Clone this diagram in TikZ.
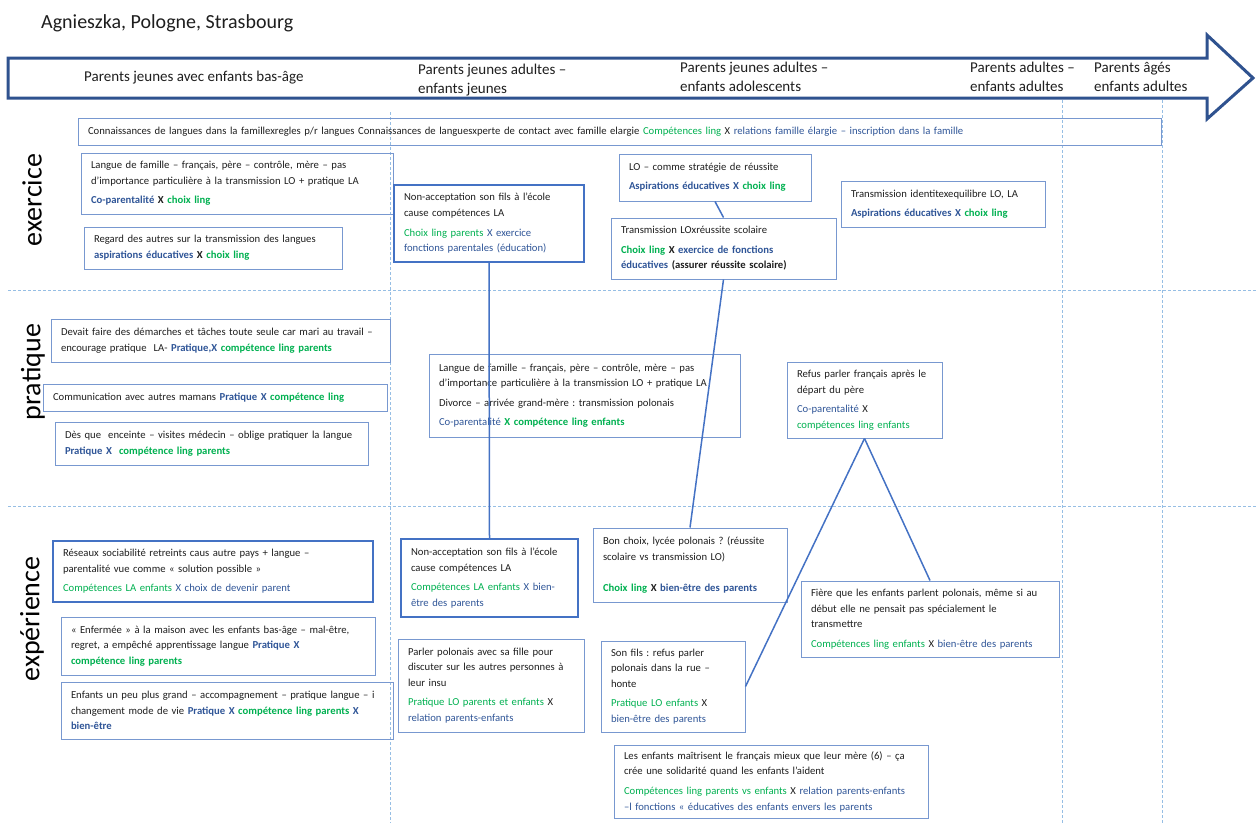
\documentclass[tikz,border=0pt]{standalone}
\usepackage{fontspec}
\setmainfont{Carlito}
\usepackage{tikz}
\frenchspacing

\definecolor{arrowblue}{RGB}{47,82,143}
\definecolor{boxblue}{RGB}{120,152,208}
\definecolor{linkblue}{RGB}{68,114,196}
\definecolor{gridblue}{RGB}{150,190,228}
\definecolor{lingreen}{RGB}{0,176,80}
\definecolor{famblue}{RGB}{47,85,151}
\definecolor{txtgray}{RGB}{30,30,30}
\newcommand{\cling}[1]{\textcolor{lingreen}{#1}}
\newcommand{\cfam}[1]{\textcolor{famblue}{#1}}

\begin{document}
\begin{tikzpicture}[x=1pt,y=-1pt,
  box/.style={draw=boxblue,line width=1pt,inner xsep=10pt,inner ysep=0pt,align=left,text=txtgray,font=\fontsize{10.67}{15.8}\selectfont},
  thickbox/.style={box,draw=linkblue,line width=1.6pt},
  sepline/.style={gridblue,line width=1pt,dash pattern=on 3pt off 2pt},
  conn/.style={linkblue,line width=1.5pt},
  stage/.style={anchor=west,inner sep=0pt,align=left,text=txtgray,font=\fontsize{15}{19}\selectfont},
  rowlabel/.style={rotate=90,inner sep=0pt,font=\fontsize{28}{30}\selectfont}]
  \useasboundingbox (0,0) rectangle (1256,823);
  \foreach \x/\y in {390/112,1062/100,1162/100} \draw[sepline] (\x,\y) -- (\x,823);
  \foreach \y in {290,506} \draw[sepline] (8,\y) -- (1256,\y);
  \node[anchor=west,inner sep=0pt,text=txtgray,font=\fontsize{20}{24}\selectfont] at (41,23) (titre) {Agnieszka, Pologne, Strasbourg};
  \draw[arrowblue,line width=3pt] (8,58) -- (1207,58) -- (1207,35) -- (1253,78) -- (1207,119) -- (1207,98) -- (8,98) -- cycle;
  \node[stage] at (84,78) (p1) {Parents jeunes avec enfants bas-âge};
  \node[stage] at (418,80) (p2) {Parents jeunes adultes –\\enfants jeunes};
  \node[stage] at (680,77) (p3) {Parents jeunes adultes –\\enfants adolescents};
  \node[stage] at (970,77) (p4) {Parents adultes –\\enfants adultes};
  \node[stage] at (1094,77) (p5) {Parents âgés\\enfants adultes};
  \node[rowlabel] at (32,200) (exercice) {exercice};
  \node[rowlabel] at (33,372) (pratique) {pratique};
  \node[rowlabel] at (32,619) (experience) {expérience};
  \node[box,text width=1063pt,minimum height=27pt] at (619.5,131.5) (famille) {Connaissances de langues dans la famillexregles p/r langues Connaissances de languesxperte de contact avec famille elargie \cling{Compétences ling} X \cfam{relations famille élargie – inscription dans la famille}};
  \node[box,text width=292pt,minimum height=61pt] at (237,183.5) (langfam) {Langue de famille – français, père – contrôle, mère – pas\\d’importance particulière à la transmission LO + pratique LA\\[3.5pt]\textbf{\cfam{Co-parentalité} X \cling{choix ling}}};
  \node[box,text width=238pt,minimum height=42pt] at (213,248) (regard) {Regard des autres sur la transmission des langues\\\textbf{\cfam{aspirations éducatives} X \cling{choix ling}}};
  \node[thickbox,text width=170pt,minimum height=77pt] at (489,223.5) (nonacc) {Non-acceptation son fils à l’école\\cause compétences LA\\[3.5pt]\cling{Choix ling parents} \cfam{X exercice}\\\cfam{fonctions parentales (éducation)}};
  \node[box,text width=172pt,minimum height=47pt] at (715,177.5) (strategie) {LO – comme stratégie de réussite\\[3.5pt]\textbf{\cfam{Aspirations éducatives X} \cling{choix ling}}};
  \node[box,text width=205pt,minimum height=61pt] at (723.5,248.5) (reussite) {Transmission LOxréussite scolaire\\[3.5pt]\textbf{\cling{Choix ling} X \cfam{exercice de fonctions}}\\\textbf{\cfam{éducatives} (assurer réussite scolaire)}};
  \node[box,text width=184pt,minimum height=46pt] at (943,204) (identite) {Transmission identitexequilibre LO, LA\\[3.5pt]\textbf{\cfam{Aspirations éducatives X} \cling{choix ling}}};
  \node[box,text width=319pt,minimum height=43pt] at (220.5,340.5) (demarches) {Devait faire des démarches et tâches toute seule car mari au travail –\\encourage pratique\ \ LA- \textbf{\cfam{Pratique,X} \cling{compétence ling parents}}};
  \node[box,text width=324pt,minimum height=27pt] at (215,397.5) (mamans) {Communication avec autres mamans \textbf{\cfam{Pratique X} \cling{compétence ling}}};
  \node[box,text width=293pt,minimum height=43pt] at (211.5,443.5) (enceinte) {Dès que\ \ enceinte – visites médecin – oblige pratiquer la langue\\\textbf{\cfam{Pratique X}\ \ \cling{compétence ling parents}}};
  \node[box,text width=291pt,minimum height=83pt] at (584.5,395.5) (divorce) {Langue de famille – français, père – contrôle, mère – pas\\d’importance particulière à la transmission LO + pratique LA\\[3.5pt]Divorce – arrivée grand-mère : transmission polonais\\[3.5pt]\cfam{Co-parentalité} \textbf{\cling{X compétence ling enfants}}};
  \node[box,text width=135pt,minimum height=76pt] at (864.5,400) (refus) {Refus parler français après le\\départ du père\\[3.5pt]\cfam{Co-parentalité} X\\\cling{compétences ling enfants}};
  \node[thickbox,text width=300pt,minimum height=61pt] at (213,571.5) (reseaux) {Réseaux sociabilité retreints caus autre pays + langue –\\parentalité vue comme « solution possible »\\[3.5pt]\cling{Compétences LA enfants} \cfam{X choix de devenir parent}};
  \node[box,text width=294pt,minimum height=58pt] at (218,646) (enfermee) {« Enfermée » à la maison avec les enfants bas-âge – mal-être,\\regret, a empêché apprentissage langue \textbf{\cfam{Pratique X}}\\\textbf{\cling{compétence ling parents}}};
  \node[box,text width=312pt,minimum height=57pt] at (227,710.5) (grandir) {Enfants un peu plus grand – accompagnement – pratique langue – i\\changement mode de vie \textbf{\cfam{Pratique X} \cling{compétence ling parents} \cfam{X}}\\\textbf{\cfam{bien-être}}};
  \node[thickbox,text width=157pt,minimum height=78pt] at (489.5,578) (nonaccexp) {Non-acceptation son fils à l’école\\cause compétences LA\\[3.5pt]\cling{Compétences LA enfants} \cfam{X bien-}\\\cfam{être des parents}};
  \node[box,text width=174pt,minimum height=74pt] at (690,565) (lycee) {Bon choix, lycée polonais ? (réussite\\scolaire vs transmission LO)\\[15pt]\textbf{\cling{Choix ling} X \cfam{bien-être des parents}}};
  \node[box,text width=238pt,minimum height=76pt] at (930,619) (fiere) {Fière que les enfants parlent polonais, même si au\\début elle ne pensait pas spécialement le\\transmettre\\[3.5pt]\cling{Compétences ling enfants} X \cfam{bien-être des parents}};
  \node[box,text width=166pt,minimum height=93pt] at (491,685.5) (parler) {Parler polonais avec sa fille pour\\discuter sur les autres personnes à\\leur insu\\[3.5pt]\cling{Pratique LO parents et enfants} X\\\cfam{relation parents-enfants}};
  \node[box,text width=124pt,minimum height=91pt] at (673,686.5) (honte) {Son fils : refus parler\\polonais dans la rue –\\honte\\[3.5pt]\cling{Pratique LO enfants} X\\\cfam{bien-être des parents}};
  \node[box,text width=294pt,minimum height=73pt] at (771,781.5) (solidarite) {Les enfants maîtrisent le français mieux que leur mère (6) – ça\\crée une solidarité quand les enfants l’aident\\[3.5pt]\cling{Compétences ling parents vs enfants} X \cfam{relation parents-enfants}\\\cfam{–l fonctions « éducatives des enfants envers les parents}};
  \foreach \a/\b in {nonacc.south/nonaccexp.north,strategie.south/reussite.north,reussite.south/lycee.north,refus.south/fiere.north,refus.south/honte.east} \draw[conn] (\a) -- (\b);
\end{tikzpicture}
\end{document}
